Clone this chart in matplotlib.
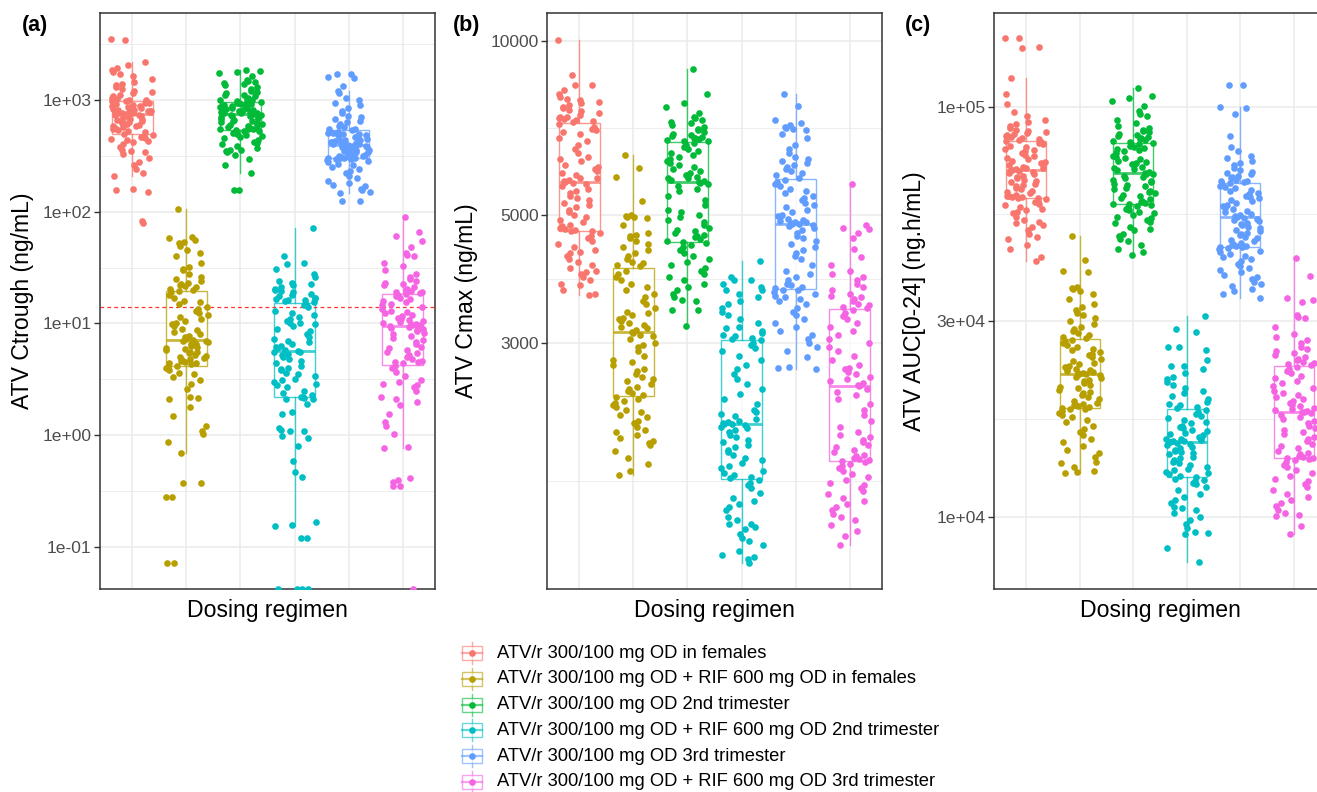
import numpy as np
import matplotlib
matplotlib.use('Agg')
import matplotlib.pyplot as plt
from matplotlib import cbook
from matplotlib.patches import Rectangle
from matplotlib.ticker import FixedLocator, NullFormatter

plt.rcParams['font.family'] = ['Liberation Sans', 'DejaVu Sans']

regimens = ['ATV/r 300/100 mg OD in females',
            'ATV/r 300/100 mg OD + RIF 600 mg OD in females',
            'ATV/r 300/100 mg OD 2nd trimester',
            'ATV/r 300/100 mg OD + RIF 600 mg OD 2nd trimester',
            'ATV/r 300/100 mg OD 3rd trimester',
            'ATV/r 300/100 mg OD + RIF 600 mg OD 3rd trimester']
colors = ['#F8766D', '#B79F00', '#00BA38', '#00BFC4', '#619CFF', '#F564E3']

# ---- panel (a): Ctrough, ng/mL ----
ctr_1 = [3500, 3480, 2190, 2050, 1950, 1850, 1780, 1700, 1650, 1550, 1450, 1400, 1350, 1300, 1250,
         1200, 1180, 1150, 1100, 1080, 1050, 1030, 1010, 1000, 990,
         980, 960, 950, 940, 920, 900, 890, 880, 870, 860, 850, 840, 830, 820, 810, 800, 795, 790,
         785, 780, 775, 770, 765, 762, 760,
         750, 740, 730, 720, 710, 700, 690, 680, 670, 660, 650, 640, 630, 620, 610, 600, 590, 580,
         570, 560, 550, 540, 530, 515, 500,
         490, 480, 470, 460, 450, 440, 430, 420, 400, 380, 360, 350, 340, 330, 300, 280, 260, 240,
         222, 209, 160, 155, 150, 82, 80]
ctr_2 = [105, 60, 58, 56, 54, 52, 49, 45, 43, 40, 35, 32, 31, 30, 28, 26, 25, 24, 23, 22.5, 22,
         21.5, 21, 20.5, 20,
         19.5, 19, 18, 17, 16, 15.5, 15, 14, 13.5, 13, 12.5, 12, 11.5, 11, 10.5, 10, 9.8, 9.5, 9,
         8.7, 8.4, 8, 7.8, 7.5, 7.3,
         7.1, 7.0, 6.9, 6.8, 6.6, 6.5, 6.3, 6.2, 6.0, 5.9, 5.8, 5.6, 5.5, 5.4, 5.2, 5.1, 5.0, 4.9,
         4.8, 4.7, 4.6, 4.5, 4.45, 4.4, 4.3,
         4.2, 4.1, 4.0, 3.8, 3.6, 3.5, 3.3, 3.1, 2.9, 2.6, 2.2, 2.15, 2.1, 1.8, 1.5, 1.22, 1.1, 1.03,
         0.87, 0.69, 0.37, 0.37, 0.28, 0.28, 0.072, 0.072]
ctr_3 = [1850, 1830, 1800, 1750, 1650, 1500, 1480, 1450, 1420, 1400, 1350, 1300, 1250, 1200, 1180,
         1150, 1120, 1100, 1080, 1050, 1030, 1010, 995, 980, 970,
         960, 950, 940, 930, 920, 910, 900, 890, 880, 870, 860, 850, 840, 830, 820, 810, 800, 790,
         780, 775, 770, 765, 760, 752, 746,
         740, 735, 725, 715, 705, 695, 685, 675, 665, 655, 645, 635, 625, 615, 605, 595, 585, 575,
         565, 560, 555, 550, 545, 538, 532,
         525, 515, 505, 495, 485, 475, 465, 455, 440, 425, 410, 400, 390, 375, 360, 355, 350, 340,
         320, 296, 260, 224, 156, 155]
ctr_4 = [71, 40, 35, 34, 31, 28, 26, 24, 23, 22.5, 22, 21, 20.5, 20, 19.5, 19, 18.5, 18, 17.5, 17,
         16.8, 16.5, 16.3, 16.1, 16.0,
         15.5, 15, 14.5, 14, 13, 12.5, 12, 11.5, 11, 10.5, 10.2, 10, 9.8, 9.5, 9, 8.5, 8, 7.6, 7.2,
         7, 6.8, 6.5, 6.3, 6.1, 6.0,
         5.8, 5.7, 5.6, 5.5, 5.3, 5.2, 5.0, 4.8, 4.6, 4.4, 4.2, 4.0, 3.9, 3.8, 3.6, 3.5, 3.4, 3.2,
         3.1, 3.0, 2.9, 2.8, 2.7, 2.5, 2.4,
         2.3, 2.2, 2.2, 2.15, 2.1, 2.1, 1.9, 1.6, 1.55, 1.15, 1.12, 1.1, 1.08, 0.98, 0.95, 0.8, 0.59,
         0.47, 0.42, 0.167, 0.157, 0.155, 0.12, 0.12, 0.042, 0.042, 0.042, 0.042]
ctr_5 = [1710, 1700, 1600, 1590, 1330, 1200, 1150, 1050, 1000, 950, 900, 850, 800, 760, 720, 700,
         680, 650, 630, 610, 590, 570, 555, 545, 535,
         520, 515, 510, 505, 500, 495, 490, 485, 480, 470, 460, 450, 445, 440, 435, 430, 425, 420,
         415, 410, 405, 400, 397, 394, 391,
         388, 385, 382, 378, 375, 370, 365, 360, 355, 350, 345, 340, 335, 330, 326, 322, 318, 314,
         311, 308, 305, 303, 301, 300, 299,
         296, 290, 285, 280, 270, 260, 250, 240, 230, 220, 210, 200, 190, 180, 175, 170, 160, 155,
         150, 148, 125, 125]
ctr_6 = [89, 66, 61, 55, 48, 43, 41, 40, 35, 33, 30, 28, 26, 25, 24, 23, 22.5, 22, 21, 20.5, 20,
         19.5, 19.2, 19, 18.8,
         18.4, 18, 17.5, 17, 16.5, 16, 15.5, 15, 14.5, 14, 13.5, 13, 12.7, 12.4, 12, 11.6, 11.3, 11,
         10.7, 10.5, 10.3, 10.1, 9.95, 9.85, 9.75,
         9.6, 9.5, 9.3, 9.1, 8.9, 8.7, 8.5, 8.2, 8.0, 7.7, 7.4, 7.1, 6.8, 6.5, 6.2, 6.0, 5.8, 5.6,
         5.4, 5.2, 5.0, 4.8, 4.65, 4.55, 4.5,
         4.4, 4.2, 4.0, 3.7, 3.4, 3.1, 3.0, 2.9, 2.8, 2.7, 2.5, 2.2, 2.1, 2.0, 1.87, 1.55, 1.32, 1.22,
         1.03, 0.79, 0.77, 0.41, 0.40, 0.38, 0.35, 0.35, 0.042]
ctrough_target = 14

# ---- panel (b): Cmax, ng/mL ----
cmax_1 = [10050, 8720, 8400, 8380, 8220, 8100, 8000, 7950, 7900, 7850, 7800, 7750, 7700, 7650, 7600,
          7550, 7500, 7450, 7400, 7380, 7350, 7320, 7290, 7260, 7230,
          7180, 7100, 7050, 7000, 6950, 6900, 6800, 6700, 6600, 6500, 6400, 6300, 6250, 6200, 6100,
          6050, 6000, 5950, 5900, 5850, 5800, 5780, 5750, 5720, 5700,
          5680, 5650, 5600, 5550, 5500, 5450, 5400, 5350, 5300, 5250, 5200, 5150, 5100, 5050, 5000,
          4950, 4900, 4850, 4800, 4780, 4750, 4730, 4710, 4690, 4680,
          4650, 4600, 4550, 4500, 4450, 4400, 4350, 4320, 4300, 4250, 4200, 4150, 4100, 4050, 4000,
          3980, 3950, 3900, 3850, 3800, 3780, 3700, 3650, 3630]
cmax_2 = [6350, 6020, 5820, 5290, 5000, 4980, 4960, 4950, 4930, 4800, 4650, 4620, 4600, 4550, 4500,
          4450, 4400, 4350, 4300, 4250, 4200, 4150, 4120, 4090, 4070,
          4000, 3950, 3900, 3850, 3800, 3750, 3700, 3650, 3600, 3550, 3500, 3450, 3400, 3380, 3350,
          3320, 3300, 3280, 3250, 3220, 3200, 3180, 3160, 3140, 3125,
          3100, 3080, 3050, 3000, 2980, 2950, 2900, 2850, 2800, 2780, 2750, 2700, 2680, 2650, 2620,
          2600, 2580, 2550, 2520, 2500, 2480, 2460, 2440, 2420, 2400,
          2380, 2360, 2340, 2320, 2300, 2280, 2250, 2230, 2200, 2180, 2150, 2120, 2100, 2080, 2050,
          2030, 2015, 2000, 1950, 1900, 1850, 1800, 1770]
cmax_3 = [8945, 8090, 7800, 7690, 7510, 7400, 7350, 7300, 7250, 7200, 7150, 7100, 7050, 7000, 6950,
          6900, 6870, 6850, 6820, 6800, 6780, 6760, 6740, 6720, 6700,
          6650, 6600, 6550, 6500, 6450, 6400, 6350, 6300, 6250, 6200, 6150, 6100, 6050, 6000, 5950,
          5900, 5870, 5850, 5820, 5800, 5780, 5750, 5720, 5700, 5680,
          5650, 5600, 5550, 5500, 5400, 5300, 5200, 5100, 5050, 5000, 4950, 4900, 4850, 4800, 4750,
          4700, 4680, 4650, 4620, 4600, 4570, 4540, 4510, 4490, 4470,
          4440, 4400, 4350, 4300, 4250, 4200, 4150, 4100, 4050, 4000, 3950, 3900, 3850, 3800, 3750,
          3700, 3650, 3600, 3560, 3550, 3420, 3420, 3210]
cmax_4 = [4160, 3900, 3855, 3850, 3800, 3750, 3710, 3700, 3650, 3600, 3550, 3500, 3450, 3400, 3350,
          3300, 3250, 3200, 3180, 3150, 3120, 3100, 3080, 3060, 3050,
          3030, 3000, 2970, 2940, 2900, 2850, 2800, 2750, 2700, 2650, 2600, 2550, 2500, 2450, 2400,
          2350, 2300, 2280, 2260, 2240, 2220, 2200, 2190, 2180, 2175,
          2170, 2160, 2150, 2140, 2120, 2100, 2080, 2060, 2040, 2020, 2000, 1980, 1960, 1940, 1920,
          1900, 1880, 1860, 1840, 1820, 1800, 1790, 1770, 1760, 1750,
          1740, 1720, 1700, 1680, 1650, 1620, 1600, 1580, 1560, 1540, 1500, 1480, 1460, 1460, 1440,
          1430, 1400, 1380, 1360, 1340, 1310, 1290, 1280, 1270, 1250]
cmax_5 = [8085, 7720, 7300, 7200, 7150, 7100, 7070, 7050, 7000, 6900, 6800, 6600, 6500, 6400, 6300,
          6250, 6200, 6150, 6100, 6050, 6000, 5950, 5900, 5850, 5800,
          5750, 5700, 5650, 5600, 5550, 5500, 5450, 5400, 5350, 5300, 5250, 5200, 5150, 5100, 5050,
          5000, 4980, 4950, 4920, 4900, 4880, 4860, 4850, 4840, 4830,
          4820, 4800, 4780, 4750, 4700, 4650, 4600, 4550, 4500, 4450, 4400, 4350, 4300, 4250, 4200,
          4100, 4000, 3950, 3900, 3850, 3800, 3780, 3750, 3730, 3710,
          3700, 3680, 3650, 3620, 3600, 3580, 3550, 3500, 3450, 3400, 3350, 3300, 3250, 3200, 3150,
          3100, 3050, 3000, 2950, 2900, 2840, 2730, 2720, 2700]
cmax_6 = [5650, 4800, 4750, 4720, 4655, 4550, 4370, 4225, 4100, 4000, 3950, 3900, 3850, 3800, 3750,
          3700, 3650, 3620, 3600, 3570, 3540, 3510, 3490, 3460, 3445,
          3420, 3380, 3340, 3300, 3250, 3200, 3150, 3100, 3050, 3000, 2950, 2900, 2850, 2800, 2750,
          2720, 2700, 2670, 2650, 2620, 2600, 2580, 2560, 2540, 2525,
          2500, 2470, 2440, 2400, 2350, 2300, 2250, 2200, 2150, 2100, 2080, 2060, 2040, 2020, 2000,
          1980, 1960, 1940, 1920, 1910, 1900, 1890, 1880, 1875, 1868,
          1855, 1840, 1820, 1800, 1780, 1760, 1740, 1720, 1700, 1680, 1660, 1640, 1620, 1600, 1580,
          1560, 1540, 1520, 1500, 1480, 1450, 1420, 1390, 1340]

# ---- panel (c): AUC[0-24], ng.h/mL ----
auc_1 = [147500, 147000, 140300, 139000, 117500, 107400, 101700, 97240, 95000, 93000, 92000, 91000,
         90000, 89000, 88000, 87500, 87000, 86500, 86000, 85500, 85000, 84500, 84000, 83500, 83000,
         82500, 82000, 81500, 81000, 80500, 80000, 79000, 78500, 78000, 77000, 76500, 76000, 75000,
         74500, 74000, 73500, 73000, 72500, 72000, 71500, 71000, 70800, 70500, 70200, 70000,
         69800, 69500, 69000, 68500, 68000, 67500, 67000, 66500, 66000, 65500, 65000, 64500, 64000,
         63500, 63000, 62500, 62000, 61500, 61000, 60800, 60600, 60400, 60200, 60000, 59900,
         59500, 59000, 58500, 58000, 57500, 57000, 56500, 56000, 55500, 55000, 54000, 53000, 52500,
         52000, 51500, 51000, 50000, 49000, 48200, 47500, 46000, 44980, 43000, 42200]
auc_2 = [48500, 42360, 39810, 39500, 36400, 36200, 36000, 35500, 35000, 34000, 33000, 32500, 32000,
         31500, 31000, 30500, 30000, 29500, 29000, 28700, 28400, 28100, 27800, 27500, 27300,
         27000, 26800, 26500, 26200, 26000, 25700, 25500, 25200, 25000, 24800, 24500, 24300, 24000,
         23800, 23600, 23400, 23200, 23000, 22900, 22800, 22700, 22600, 22500, 22400, 22350,
         22300, 22200, 22000, 21800, 21600, 21400, 21200, 21000, 20800, 20600, 20400, 20200, 20000,
         19800, 19600, 19400, 19200, 19000, 18900, 18800, 18700, 18600, 18500, 18420, 18360,
         18300, 18100, 17900, 17700, 17500, 17200, 17000, 16700, 16400, 16100, 15800, 15500, 15200,
         14900, 14600, 14300, 14000, 13590, 13550, 13200, 12940, 12900, 12830]
auc_3 = [111100, 106400, 105000, 103400, 100560, 98000, 96000, 95000, 93000, 91500, 90000, 89000,
         88000, 87500, 87000, 86000, 85500, 85000, 84500, 84000, 83500, 83000, 82500, 82000, 81700,
         81300, 81000, 80500, 80000, 79500, 79000, 78500, 78000, 77000, 76000, 75500, 75000, 74500,
         74000, 73500, 73000, 72500, 72000, 71500, 71000, 70500, 70000, 69500, 69000, 68700,
         68500, 68000, 67500, 67000, 66500, 66000, 65500, 65000, 64500, 64000, 63500, 63000, 62500,
         62000, 61500, 61000, 60500, 60000, 59500, 59000, 58700, 58400, 58100, 57900, 57700,
         57400, 57000, 56500, 56000, 55500, 55000, 54500, 54000, 53500, 53000, 52500, 52000, 51000,
         50500, 50000, 49000, 48500, 47650, 47000, 46000, 45000, 44220, 43550]
auc_4 = [30900, 28720, 28300, 26000, 25950, 25500, 24200, 23400, 23300, 23000, 22500, 22000, 21700,
         21300, 21000, 20600, 20300, 20000, 19700, 19400, 19100, 18900, 18700, 18500, 18400,
         18200, 18000, 17800, 17600, 17400, 17200, 17000, 16900, 16700, 16600, 16500, 16300, 16200,
         16000, 15900, 15800, 15700, 15600, 15500, 15450, 15400, 15350, 15300, 15250, 15220,
         15150, 15050, 14950, 14850, 14700, 14600, 14500, 14400, 14300, 14200, 14000, 13900, 13800,
         13600, 13500, 13400, 13200, 13100, 13000, 12900, 12800, 12700, 12600, 12500, 12400,
         12300, 12200, 12100, 12000, 11800, 11600, 11400, 11200, 11000, 10800, 10600, 10520, 10400,
         10200, 10000, 9800, 9600, 9400, 9200, 9150, 9100, 8410, 7760]
auc_5 = [113200, 113000, 99800, 99500, 96100, 85000, 80000, 78000, 76000, 75000, 74000, 73000, 72000,
         71000, 70000, 69500, 69000, 68500, 68000, 67500, 67000, 66500, 66000, 65800, 65500,
         65200, 64800, 64300, 63800, 63300, 62800, 62300, 61800, 61300, 60800, 60300, 59800, 59300,
         58800, 58300, 57800, 57300, 56800, 56300, 55800, 55300, 54800, 54400, 54100, 53900,
         53700, 53400, 53000, 52600, 52200, 51800, 51400, 51000, 50600, 50200, 49800, 49400, 49000,
         48600, 48200, 47800, 47400, 47000, 46700, 46400, 46100, 45900, 45700, 45600, 45500,
         45300, 45000, 44600, 44200, 43800, 43400, 43000, 42500, 42000, 41500, 41000, 40500, 40000,
         39500, 39000, 38500, 38000, 37500, 37000, 36500, 36000, 35500, 35000, 34100]
auc_6 = [42760, 38700, 34200, 33880, 33500, 31000, 30800, 30500, 29000, 28000, 27500, 27000, 26500,
         26000, 25700, 25400, 25100, 24800, 24500, 24300, 24100, 23900, 23700, 23550, 23450,
         23200, 23000, 22700, 22400, 22100, 21800, 21500, 21200, 20900, 20600, 20300, 20000, 19800,
         19600, 19400, 19200, 19000, 18800, 18600, 18450, 18300, 18200, 18100, 18050, 18000,
         17900, 17700, 17500, 17300, 17100, 16900, 16700, 16500, 16300, 16100, 15900, 15700, 15500,
         15300, 15100, 14900, 14700, 14500, 14300, 14200, 14100, 14000, 13950, 13900, 13870,
         13800, 13600, 13400, 13200, 13000, 12800, 12600, 12400, 12200, 12000, 11800, 11600, 11400,
         11200, 11000, 10800, 10640, 10400, 10200, 10080, 10050, 9500, 9080]

W, H = 1317, 792
fig = plt.figure(figsize=(W / 100, H / 100), dpi=100)


def px_axes(x0, x1, y0, y1):
    return fig.add_axes([x0 / W, 1 - y1 / H, (x1 - x0) / W, (y1 - y0) / H])


def jitter(n, i):
    # deterministic, evenly scattered horizontal offsets (+-0.4, like geom_jitter)
    k = np.arange(n)
    return ((k * 0.7548777 + k * k * 0.5698403 + 0.31 * i) % 1.0 - 0.5) * 0.8


def draw_panel(ax, groups, ylim, majors, labels, minors):
    ax.set_yscale('log')
    for i, (vals, col) in enumerate(zip(groups, colors)):
        pos = i + 1
        vals = np.array(vals, dtype=float)
        # ggplot computes box stats on the log scale
        st = cbook.boxplot_stats(np.log10(vals), whis=1.5)[0]
        for k in ('med', 'q1', 'q3', 'whislo', 'whishi', 'mean'):
            st[k] = 10 ** st[k]
        st['fliers'] = []
        lc = dict(color=col, lw=1.0, alpha=0.75)
        ax.bxp([st], positions=[pos], widths=0.75, showfliers=False, showcaps=False,
               patch_artist=True,
               boxprops=dict(facecolor='white', edgecolor=col, lw=1.0, alpha=0.75),
               whiskerprops=lc, medianprops=dict(color=col, lw=2.0, alpha=0.75),
               zorder=2, manage_ticks=False)
        ax.scatter(pos + jitter(len(vals), i), vals, s=23, color=col, lw=0, zorder=3)
    ax.set_xlim(0.4, 6.6)
    ax.set_ylim(*ylim)
    ax.set_xticks(range(1, 7))
    ax.set_xticklabels([])
    ax.yaxis.set_major_locator(FixedLocator(majors))
    ax.set_yticklabels(labels)
    ax.yaxis.set_minor_locator(FixedLocator(minors))
    ax.yaxis.set_minor_formatter(NullFormatter())
    ax.tick_params(axis='x', length=0)
    ax.tick_params(axis='y', which='major', length=4, width=1.0, color='#333333',
                   labelcolor='#4D4D4D', labelsize=12.6, pad=2)
    ax.tick_params(axis='y', which='minor', length=0)
    ax.grid(True, which='major', color='#EBEBEB', lw=1.1)
    ax.grid(True, which='minor', axis='y', color='#EBEBEB', lw=0.6)
    ax.set_axisbelow(True)
    for s in ax.spines.values():
        s.set_color('#333333')
        s.set_linewidth(1.1)


ax_a = px_axes(100, 435, 13, 589)
draw_panel(ax_a, [ctr_1, ctr_2, ctr_3, ctr_4, ctr_5, ctr_6], (0.042, 6012),
           [0.1, 1, 10, 100, 1000], ['1e-01', '1e+00', '1e+01', '1e+02', '1e+03'],
           [10 ** -0.5, 10 ** 0.5, 10 ** 1.5, 10 ** 2.5, 10 ** 3.5])
ax_a.axhline(ctrough_target, color='#FF3030', lw=0.9, ls=(0, (3, 2.5)), zorder=2.5)

ax_b = px_axes(547, 882, 13, 589)
draw_panel(ax_b, [cmax_1, cmax_2, cmax_3, cmax_4, cmax_5, cmax_6], (1125, 11180),
           [3000, 5000, 10000], ['3000', '5000', '10000'],
           [np.sqrt(1000 * 3000), np.sqrt(3000 * 5000), np.sqrt(5000 * 10000)])

ax_c = px_axes(994, 1326, 13, 589)
draw_panel(ax_c, [auc_1, auc_2, auc_3, auc_4, auc_5, auc_6], (6670, 169500),
           [1e4, 3e4, 1e5], ['1e+04', '3e+04', '1e+05'],
           [np.sqrt(1e4 * 3e4), np.sqrt(3e4 * 1e5), np.sqrt(1e5 * 3e5)])

# axis titles and panel tags
for xc, lab in [(23, 'ATV Ctrough (ng/mL)'), (467, 'ATV Cmax (ng/mL)'),
                (915, 'ATV AUC[0-24] (ng.h/mL)')]:
    fig.text(xc / W, 1 - 301 / H, lab, rotation=90, ha='center', va='center', fontsize=16.6)
for xc in (267, 714, 1160):
    fig.text(xc / W, 1 - 611 / H, 'Dosing regimen', ha='center', va='center', fontsize=16.6)
for xl, tag in [(22, '(a)'), (453, '(b)'), (905, '(c)')]:
    fig.text(xl / W, 1 - 26 / H, tag, ha='left', va='center', fontsize=15.5, fontweight='bold')

# legend drawn in pixel coordinates
lax = fig.add_axes([0, 0, 1, 1], zorder=-1)
lax.set_xlim(0, W)
lax.set_ylim(H, 0)
lax.axis('off')
for i, (lab, col) in enumerate(zip(regimens, colors)):
    yc = 653 + i * 25.8
    lax.plot([472, 472], [yc - 11, yc + 11], color=col, lw=1.0, alpha=0.6)
    lax.add_patch(Rectangle((462, yc - 7), 20, 14, facecolor='white', edgecolor=col,
                            lw=1.0, alpha=0.6, zorder=2))
    lax.plot([462, 482], [yc, yc], color=col, lw=1.6, alpha=0.6, zorder=3)
    lax.scatter([472], [yc], s=23, color=col, lw=0, zorder=4)
    lax.text(497, yc, lab, ha='left', va='center', fontsize=13.2)

fig.savefig('out.png', dpi=100, facecolor='white')
